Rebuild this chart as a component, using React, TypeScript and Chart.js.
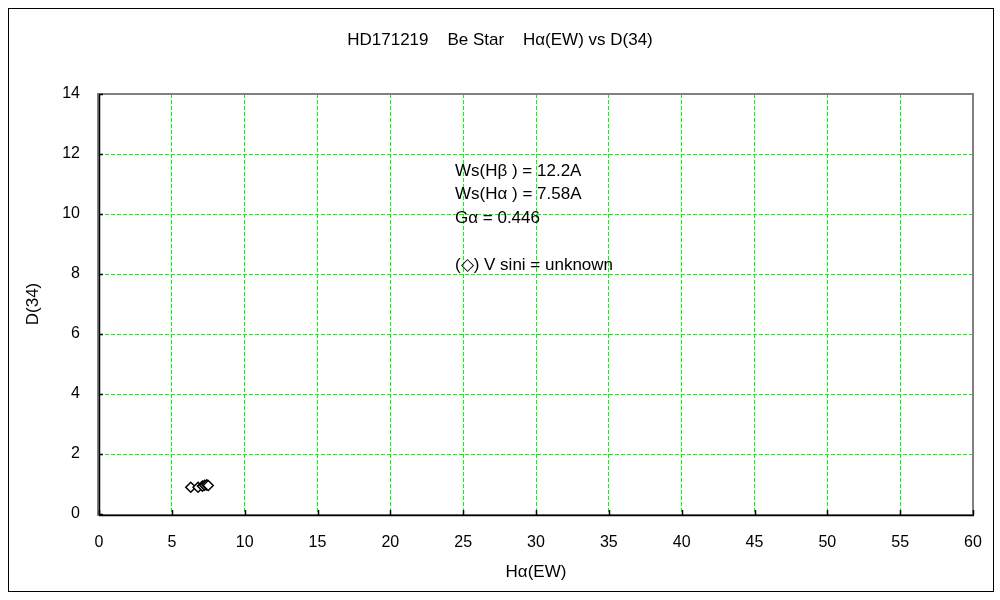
import React, { useEffect, useRef } from "react";
import { Chart, registerables } from "chart.js";

Chart.register(...registerables);

// ---- data ----
const haEW = [6.3, 6.8, 7.1, 7.25, 7.4, 7.5];
const d34 = [0.89, 0.89, 0.93, 0.96, 0.97, 0.95];

const xMin = 0;
const xMax = 60;
const xStep = 5;
const yMin = 0;
const yMax = 14;
const yStep = 2;

const titleText = "HD171219    Be Star    H\u03B1(EW) vs D(34)";
const xTitle = "H\u03B1(EW)";
const yTitle = "D(34)";
const notes = [
  "Ws(H\u03B2 ) = 12.2A",
  "Ws(H\u03B1 ) = 7.58A",
  "G\u03B1 = 0.446",
  "",
  "(\u25C7) V sini = unknown",
];

const FONT = "'Liberation Sans', Arial, sans-serif";

const framePlugin = {
  id: "framePlugin",
  afterDraw(chart: any) {
    const { ctx, chartArea } = chart;
    const { left, right, top, bottom } = chartArea;
    const xs = chart.scales.x;
    const ys = chart.scales.y;
    ctx.save();
    // gray plot-area frame
    ctx.strokeStyle = "#808080";
    ctx.lineWidth = 2;
    ctx.setLineDash([]);
    ctx.strokeRect(left - 1, top, right - left + 1, bottom - top + 1);
    // black axes
    ctx.strokeStyle = "#000000";
    ctx.lineWidth = 1.5;
    ctx.beginPath();
    ctx.moveTo(left + 0.5, top);
    ctx.lineTo(left + 0.5, bottom + 1);
    ctx.moveTo(left, bottom + 1.5);
    ctx.lineTo(right + 1, bottom + 1.5);
    ctx.stroke();
    // inward tick marks
    ctx.lineWidth = 1.5;
    ctx.beginPath();
    for (let v = yMin; v <= yMax; v += yStep) {
      const p = Math.round(ys.getPixelForValue(v)) + 0.5;
      ctx.moveTo(left, p);
      ctx.lineTo(left + 4, p);
    }
    for (let v = xMin; v <= xMax; v += xStep) {
      const p = Math.round(xs.getPixelForValue(v)) + 0.5;
      ctx.moveTo(p, bottom + 1);
      ctx.lineTo(p, bottom - 4);
    }
    ctx.stroke();
    // annotation text
    ctx.fillStyle = "#000000";
    ctx.font = "17px " + FONT;
    ctx.textAlign = "left";
    ctx.textBaseline = "middle";
    notes.forEach((t, i) => {
      if (t) ctx.fillText(t, left + 356, top + 77 + i * 23.6);
    });
    ctx.restore();
  },
};

export default function App() {
  const ref = useRef<HTMLCanvasElement | null>(null);

  useEffect(() => {
    if (!ref.current) return;
    const chart = new Chart(ref.current, {
      type: "scatter",
      data: {
        datasets: [
          {
            label: "HD171219",
            data: haEW.map((x, i) => ({ x, y: d34[i] })),
            pointStyle: "rectRot",
            pointRadius: 5,
            pointBorderWidth: 1.5,
            borderColor: "#000000",
            backgroundColor: "#ffffff",
            pointBackgroundColor: "#ffffff",
            pointBorderColor: "#000000",
            showLine: false,
          },
        ],
      },
      options: {
        responsive: false,
        animation: false,
        layout: { padding: { left: 18, right: 20, top: 0, bottom: 0 } },
        plugins: {
          legend: { display: false },
          tooltip: { enabled: false },
          title: {
            display: true,
            text: titleText,
            color: "#000000",
            font: { family: FONT, size: 17, weight: "normal" },
            padding: { top: 21, bottom: 43.6 },
          },
        },
        scales: {
          x: {
            type: "linear",
            min: xMin,
            max: xMax,
            ticks: {
              stepSize: xStep,
              color: "#000000",
              font: { family: FONT, size: 16 },
              padding: 4,
              maxRotation: 0,
            },
            grid: {
              color: "#00ff00",
              lineWidth: 1,
              drawTicks: true,
              tickLength: 15,
              tickColor: "rgba(0,0,0,0)",
            },
            border: { display: false, dash: [4, 2] },
            title: {
              display: true,
              text: xTitle,
              color: "#000000",
              font: { family: FONT, size: 17 },
              padding: { top: 0, bottom: 8 },
            },
            afterFit(scale: any) {
              scale.height = 77;
            },
          },
          y: {
            type: "linear",
            min: yMin,
            max: yMax,
            ticks: {
              stepSize: yStep,
              color: "#000000",
              font: { family: FONT, size: 16 },
              padding: 19,
            },
            grid: {
              color: "#00ff00",
              lineWidth: 1,
              drawTicks: false,
            },
            border: { display: false, dash: [4, 2] },
            title: {
              display: true,
              text: yTitle,
              color: "#000000",
              font: { family: FONT, size: 17 },
              padding: { top: -4, bottom: 0 },
            },
            afterFit(scale: any) {
              scale.width = 72;
            },
          },
        },
      },
      plugins: [framePlugin],
    });
    return () => chart.destroy();
  }, []);

  return (
    <div
      style={{
        position: "fixed",
        left: 8,
        top: 8,
        width: 984,
        height: 582,
        border: "1px solid #000000",
        background: "#ffffff",
      }}
    >
      <canvas
        ref={ref}
        width={984}
        height={582}
        style={{ display: "block", width: 984, height: 582 }}
      />
    </div>
  );
}
